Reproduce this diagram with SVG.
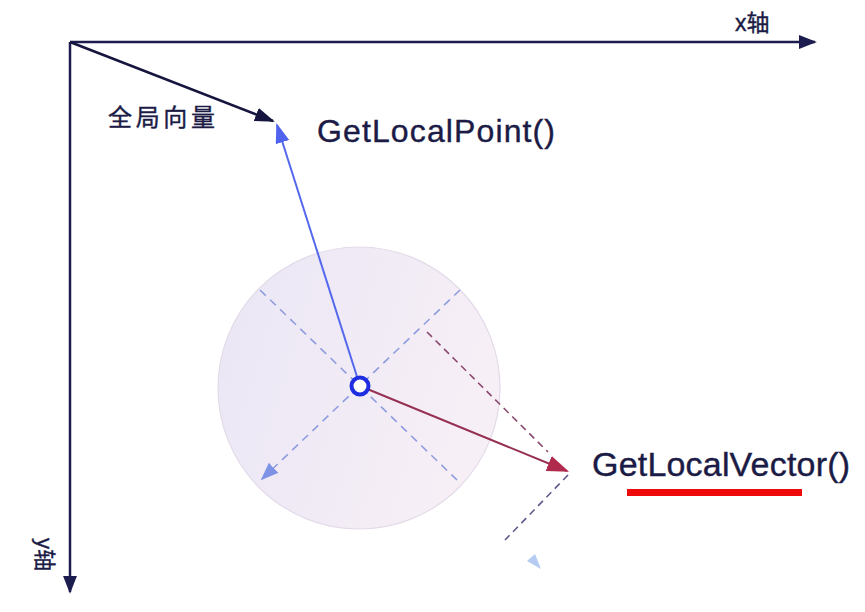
<svg xmlns="http://www.w3.org/2000/svg" width="865" height="612" viewBox="0 0 865 612">
<style>
.lbl{font-family:"Liberation Sans",Arial,"Noto Sans CJK SC",sans-serif;fill:#1b1b45;stroke:#1b1b45;stroke-width:0.4}
.axis{stroke:#1c1c4e;stroke-width:2.5;fill:none}
.dashb{stroke:#8f9de0;stroke-width:1.6;stroke-dasharray:8 6;fill:none}
.dashr{stroke:#8a4a70;stroke-width:1.6;stroke-dasharray:7 5;fill:none}
.dashg{stroke:#5e5a8a;stroke-width:1.6;stroke-dasharray:7 5;fill:none}
</style>
<defs>
<marker id="ahAxis" viewBox="0 0 10 10" refX="9" refY="5" markerWidth="18" markerHeight="14" orient="auto" markerUnits="userSpaceOnUse" preserveAspectRatio="none">
<path d="M0,0 L10,5 L0,10 z" fill="#1c1c4e"/>
</marker>
<marker id="ahNavy" viewBox="0 0 10 10" refX="9" refY="5" markerWidth="20" markerHeight="14" orient="auto" markerUnits="userSpaceOnUse" preserveAspectRatio="none">
<path d="M0,0 L10,5 L0,10 z" fill="#15153f"/>
</marker>
<marker id="ahBlue" viewBox="0 0 10 10" refX="9" refY="5" markerWidth="20" markerHeight="14" orient="auto" markerUnits="userSpaceOnUse" preserveAspectRatio="none">
<path d="M0,0 L10,5 L0,10 z" fill="#4f63ee"/>
</marker>
<marker id="ahRed" viewBox="0 0 10 10" refX="9" refY="5" markerWidth="22" markerHeight="16" orient="auto" markerUnits="userSpaceOnUse" preserveAspectRatio="none">
<path d="M0,0 L10,5 L0,10 z" fill="#b02a4e"/>
</marker>
<marker id="ahLb" viewBox="0 0 10 10" refX="9" refY="5" markerWidth="18" markerHeight="14" orient="auto" markerUnits="userSpaceOnUse" preserveAspectRatio="none">
<path d="M0,0 L10,5 L0,10 z" fill="#7f93e6"/>
</marker>
<linearGradient id="cg" x1="0" y1="0" x2="1" y2="0.3">
<stop offset="0" stop-color="#e9e6f5"/>
<stop offset="1" stop-color="#f7eff6"/>
</linearGradient>
</defs>

<g id="circle">
<circle cx="359" cy="388" r="141" fill="url(#cg)" stroke="#e4dae9" stroke-width="1.2"/>
</g>

<g id="connectors">
<line class="axis" x1="70" y1="42" x2="815" y2="42" marker-end="url(#ahAxis)"/>
<line class="axis" x1="70" y1="42" x2="70" y2="592" marker-end="url(#ahAxis)"/>
<line x1="70" y1="42" x2="273" y2="121" stroke="#15153f" stroke-width="2.5" marker-end="url(#ahNavy)"/>
<line class="dashb" x1="260" y1="290" x2="457" y2="480"/>
<line class="dashb" x1="460" y1="290" x2="262" y2="479" marker-end="url(#ahLb)"/>
<line class="dashr" x1="427" y1="332" x2="548" y2="452"/>
<line class="dashg" x1="568" y1="475" x2="505" y2="540"/>
<line x1="360" y1="386" x2="277" y2="125" stroke="#5468ee" stroke-width="2" marker-end="url(#ahBlue)"/>
<line x1="360" y1="386" x2="567" y2="471" stroke="#963052" stroke-width="2" marker-end="url(#ahRed)"/>
<path d="M527,561 L535,554 L541,569 z" fill="#a9c2ee" opacity="0.85"/>
</g>

<g id="origin">
<circle cx="360" cy="386" r="8.5" fill="#ffffff" stroke="#1f2ee0" stroke-width="4"/>
</g>

<g id="labels">
<text class="lbl" x="735" y="31" font-size="23">x轴</text>
<text class="lbl" transform="translate(37,538) rotate(90)" font-size="22">y轴</text>
<text class="lbl" x="108" y="126" font-size="24" textLength="107">全局向量</text>
<text class="lbl" x="317" y="142" font-size="32" textLength="238">GetLocalPoint()</text>
<text class="lbl" x="592" y="476" font-size="34" textLength="258">GetLocalVector()</text>
<rect x="627" y="489" width="175" height="7" fill="#ee0a0a"/>
</g>
</svg>
